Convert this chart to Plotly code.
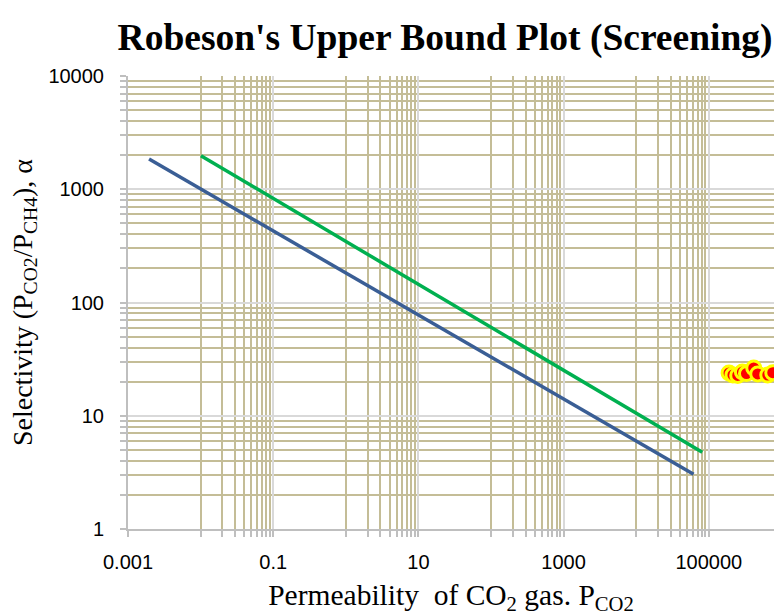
import plotly.graph_objects as go

# Data
blue_x = [0.00195, 61700]
blue_y = [1850, 3.04]
green_x = [0.0101, 81300]
green_y = [1980, 4.75]
pts_x = [190000, 215000, 250000, 290000, 330000, 416000, 472000, 649000, 760000]
pts_y = [23.9, 22.9, 22.7, 24.3, 23.6, 26.4, 23.4, 22.9, 24.0]

x_major = [0.001, 0.1, 10, 1000, 100000]
x_major_text = ["0.001", "0.1", "10", "1000", "100000"]
y_major = [1, 10, 100, 1000, 10000]
y_major_text = ["1", "10", "100", "1000", "10000"]
x_minor_exps = [-2, 0, 2, 4]
y_minor_exps = [0, 1, 2, 3]

x_minor = [k * 10.0 ** e for e in x_minor_exps for k in range(1, 10)]
y_minor = [k * 10.0 ** e for e in y_minor_exps for k in range(2, 10)]

TAN = "#C4BD97"
GRAY = "#D9D9D9"
AXIS = "#BFBFBF"

fig = go.Figure()
fig.add_trace(go.Scatter(x=blue_x, y=blue_y, mode="lines",
                         line=dict(color="#3A5E95", width=3.5), showlegend=False))
fig.add_trace(go.Scatter(x=green_x, y=green_y, mode="lines",
                         line=dict(color="#00B050", width=3.5), showlegend=False))
fig.add_trace(go.Scatter(x=pts_x, y=pts_y, mode="markers",
                         marker=dict(color="#FF0000", size=14,
                                     line=dict(color="#FFFF00", width=3)),
                         showlegend=False))

fig.update_layout(
    width=774, height=615,
    margin=dict(l=128, r=0, t=76, b=86),
    paper_bgcolor="white", plot_bgcolor="white",
    title=dict(text="<b>Robeson's Upper Bound Plot (Screening)</b>",
               font=dict(family="Liberation Serif", size=37.5, color="black"),
               x=0.575, xanchor="center", xref="container",
               y=1 - 37 / 615, yanchor="middle", yref="container"),
)

fig.update_xaxes(
    type="log", range=[-3, 5.898], automargin=False,
    tickmode="array", tickvals=x_major, ticktext=x_major_text,
    tickfont=dict(family="Liberation Sans", size=20, color="black"),
    showgrid=True, gridcolor=GRAY, gridwidth=2,
    ticks="outside", ticklen=6, tickcolor=AXIS, tickwidth=1.5,
    ticklabelstandoff=8,
    showline=True, linecolor=AXIS, linewidth=2,
    zeroline=False,
    minor=dict(tickmode="array", tickvals=x_minor, showgrid=True,
               gridcolor=TAN, gridwidth=2, ticks="outside", ticklen=6,
               tickcolor=AXIS, tickwidth=1.5),
    title=dict(text="Permeability  of CO<sub>2</sub> gas. P<sub>CO2</sub>",
               font=dict(family="Liberation Serif", size=29.5, color="black"),
               standoff=24),
)
fig.update_yaxes(
    type="log", range=[0, 4], automargin=False,
    tickmode="array", tickvals=y_major, ticktext=y_major_text,
    tickfont=dict(family="Liberation Sans", size=20, color="black"),
    showgrid=True, gridcolor=GRAY, gridwidth=2,
    ticks="outside", ticklen=6, tickcolor=AXIS, tickwidth=1.5,
    ticklabelstandoff=12,
    showline=True, linecolor=AXIS, linewidth=2,
    zeroline=False,
    minor=dict(tickmode="array", tickvals=y_minor, showgrid=True,
               gridcolor=TAN, gridwidth=2, ticks="outside", ticklen=6,
               tickcolor=AXIS, tickwidth=1.5),
    title=dict(text="Selectivity (P<sub>CO2</sub>/P<sub>CH4</sub>), α",
               font=dict(family="Liberation Serif", size=28, color="black"),
               standoff=8),
)

fig.write_html("out.html")
